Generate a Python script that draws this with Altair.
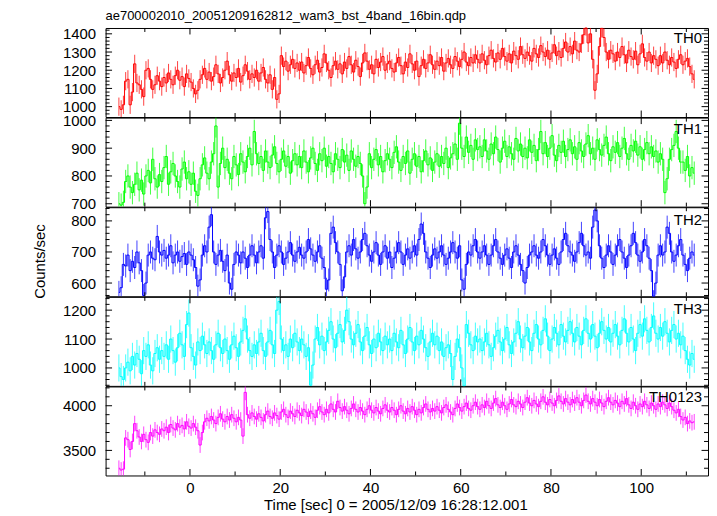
import altair as alt
import pandas as pd

TITLE = "ae700002010_20051209162812_wam3_bst_4band_16bin.qdp"
X_TITLE = "Time [sec] 0 = 2005/12/09 16:28:12.001"
Y_TITLE = "Counts/sec"
T_START = -16.0
BIN = 0.5
X_DOMAIN = [-18.7, 114.8]
X_LABELS = [0, 20, 40, 60, 80, 100]
X_MINOR = [-10, 10, 30, 50, 70, 90, 110]

TH0 = [
    1000, 985, 1010, 1140, 1150, 1010, 1080, 1235, 1130, 1120, 1095, 1055, 1200, 1210, 1150, 1095, 1120, 1170, 1140, 1110,
    1160, 1130, 1185, 1150, 1120, 1170, 1200, 1145, 1165, 1110, 1180, 1155, 1135, 1100, 1070, 1090, 1150, 1175, 1210, 1150,
    1190, 1140, 1165, 1230, 1180, 1130, 1160, 1200, 1250, 1175, 1140, 1185, 1160, 1210, 1135, 1170, 1230, 1195, 1150, 1180,
    1160, 1200, 1140, 1185, 1215, 1150, 1130, 1175, 1095, 1160, 1040, 1070, 1280, 1220, 1250, 1195, 1230, 1260, 1210, 1240,
    1200, 1245, 1185, 1225, 1270, 1210, 1175, 1230, 1255, 1190, 1215, 1290, 1240, 1200, 1160, 1225, 1250, 1205, 1235, 1180,
    1245, 1210, 1275, 1230, 1190, 1255, 1220, 1165, 1240, 1295, 1250, 1205, 1230, 1180, 1260, 1215, 1245, 1275, 1200, 1235,
    1250, 1210, 1190, 1240, 1270, 1225, 1180, 1245, 1215, 1290, 1235, 1200, 1250, 1165, 1225, 1260, 1210, 1240, 1285, 1230,
    1205, 1250, 1225, 1270, 1195, 1240, 1265, 1230, 1210, 1275, 1250, 1220, 1260, 1300, 1245, 1225, 1270, 1240, 1285, 1260,
    1240, 1290, 1255, 1230, 1280, 1310, 1265, 1245, 1295, 1260, 1320, 1275, 1250, 1290, 1240, 1305, 1280, 1260, 1330, 1285,
    1265, 1300, 1280, 1250, 1320, 1290, 1270, 1335, 1300, 1275, 1310, 1260, 1295, 1340, 1280, 1305, 1270, 1320, 1355, 1300,
    1330, 1290, 1360, 1310, 1300, 1345, 1395, 1440, 1350, 1400, 1260, 1090, 1180, 1330, 1430, 1380, 1300, 1260, 1310, 1290,
    1250, 1300, 1270, 1330, 1285, 1240, 1310, 1275, 1260, 1305, 1230, 1290, 1345, 1270, 1250, 1300, 1240, 1280, 1260, 1225,
    1280, 1240, 1300, 1255, 1230, 1270, 1245, 1210, 1260, 1285, 1230, 1250, 1265, 1220, 1180, 1150,
]
TH1 = [
    700, 695, 705, 780, 800, 760, 740, 770, 810, 750, 785, 735, 800, 820, 775, 860, 790, 760, 805, 780,
    830, 870, 770, 815, 845, 800, 780, 760, 825, 850, 790, 815, 770, 810, 745, 730, 790, 840, 865, 810,
    790, 850, 880, 980, 760, 845, 900, 830, 860, 810, 790, 870, 840, 805, 880, 850, 815, 870, 900, 840,
    960, 880, 845, 870, 820, 890, 850, 830, 875, 905, 845, 815, 860, 890, 835, 870, 810, 855, 880, 840,
    870, 830, 890, 850, 815, 865, 900, 845, 820, 880, 855, 900, 835, 870, 845, 815, 880, 860, 830, 895,
    850, 875, 820, 890, 860, 835, 870, 845, 800, 700, 760, 880, 830, 860, 895, 840, 870, 815, 855, 880,
    860, 830, 885, 905, 850, 820, 870, 845, 890, 810, 860, 880, 835, 870, 815, 855, 890, 840, 865, 820,
    850, 880, 835, 870, 845, 900, 830, 865, 880, 915, 860, 990, 900, 870, 940, 885, 910, 860, 930, 895,
    905, 870, 930, 890, 860, 915, 880, 940, 895, 850, 900, 925, 870, 905, 880, 860, 935, 890, 915, 870,
    900, 865, 930, 885, 910, 855, 895, 960, 880, 920, 870, 900, 945, 875, 855, 910, 885, 925, 870, 895,
    930, 880, 905, 860, 920, 890, 870, 915, 945, 880, 900, 860, 930, 895, 875, 910, 940, 880, 855, 905,
    885, 920, 870, 900, 935, 880, 860, 910, 890, 925, 875, 905, 860, 895, 920, 880, 905, 870, 890, 850,
    880, 860, 740, 790, 860, 895, 910, 960, 900, 850, 850, 820, 870, 800, 830, 810,
]
TH2 = [
    570, 585, 660, 655, 690, 640, 670, 650, 700, 665, 640, 560, 600, 690, 700, 680, 675, 750, 700, 690,
    705, 680, 690, 720, 665, 690, 700, 670, 685, 695, 660, 700, 690, 675, 650, 590, 610, 690, 720, 700,
    780, 820, 700, 660, 690, 705, 670, 640, 690, 600, 580, 660, 700, 690, 665, 700, 680, 650, 690, 720,
    690, 665, 700, 720, 680, 810, 830, 740, 700, 650, 690, 720, 700, 660, 680, 700, 730, 690, 670, 700,
    715, 690, 680, 700, 740, 710, 690, 670, 700, 720, 680, 650, 580, 610, 760, 780, 730, 700, 660, 575,
    620, 700, 720, 690, 740, 710, 680, 700, 740, 760, 720, 690, 670, 700, 730, 690, 660, 700, 720, 680,
    700, 650, 680, 700, 730, 700, 660, 690, 710, 680, 700, 720, 690, 740, 790, 760, 700, 680, 650, 690,
    710, 680, 700, 720, 690, 660, 680, 700, 730, 700, 680, 720, 610, 580, 660, 700, 690, 720, 740, 700,
    680, 700, 720, 690, 660, 690, 720, 740, 700, 680, 660, 690, 710, 680, 650, 700, 720, 690, 660, 640,
    600, 650, 690, 700, 720, 690, 680, 700, 740, 720, 690, 660, 690, 710, 680, 660, 700, 740, 760, 720,
    700, 690, 670, 700, 730, 760, 720, 690, 700, 680, 780, 835, 800, 720, 680, 650, 690, 720, 700, 660,
    690, 720, 740, 700, 680, 650, 690, 720, 760, 730, 690, 670, 700, 740, 720, 680, 640, 540, 600, 690,
    720, 690, 700, 780, 760, 700, 670, 690, 720, 740, 690, 660, 640, 680, 700, 690,
]
TH3 = [
    1000, 970, 960, 1000, 1020, 990, 1040, 1010, 1050, 1030, 980, 1060, 1040, 1080, 1010, 990, 1050, 1070, 1030, 1060,
    1040, 1080, 1030, 1100, 1060, 1020, 1070, 1120, 1080, 1040, 1150, 1190, 1070, 1040, 1010, 1090, 1060, 1110, 1080, 1050,
    1090, 1060, 1030, 1080, 1120, 1070, 1050, 1100, 1060, 1030, 1080, 1110, 1070, 1040, 1090, 1130, 1170, 1100, 1060, 1040,
    1080, 1050, 1090, 1120, 1060, 1040, 1090, 1130, 1080, 1050, 1200, 1230, 1100, 1060, 1080, 1040, 1100, 1070, 1120, 1090,
    1060, 1100, 1080, 1040, 1070, 940, 1010, 1100, 1140, 1080, 1110, 1060, 1090, 1130, 1160, 1100, 1070, 1120, 1150, 1090,
    1130, 1200, 1160, 1100, 1080, 1120, 1150, 1090, 1060, 1110, 1140, 1080, 1050, 1100, 1070, 1120, 1090, 1060, 1110, 1080,
    1100, 1060, 1120, 1090, 1070, 1130, 1080, 1050, 1100, 1140, 1090, 1060, 1110, 1080, 1130, 1100, 1070, 1040, 1090, 1120,
    1080, 1110, 1060, 1090, 1040, 1070, 1080, 1050, 960, 1040, 1100, 1070, 1000, 920, 1150, 1120, 1080, 1060, 1110, 1090,
    1100, 1060, 1090, 1120, 1080, 1040, 1070, 1110, 1130, 1090, 1060, 1100, 1140, 1080, 1050, 1090, 1120, 1160, 1100, 1070,
    1110, 1140, 1090, 1060, 1120, 1150, 1100, 1080, 1130, 1170, 1110, 1060, 1100, 1140, 1120, 1080, 1150, 1110, 1090, 1130,
    1160, 1120, 1090, 1140, 1110, 1080, 1130, 1170, 1120, 1100, 1150, 1110, 1070, 1120, 1160, 1130, 1100, 1140, 1090, 1120,
    1150, 1110, 1080, 1130, 1170, 1120, 1090, 1140, 1100, 1060, 1120, 1150, 1110, 1170, 1130, 1090, 1140, 1180, 1120, 1100,
    1140, 1110, 1160, 1120, 1090, 1130, 1150, 1100, 1120, 1080, 1110, 1060, 1030, 1010, 1050, 1030,
]
TH0123 = [
    3300, 3280, 3290, 3640, 3620, 3510, 3600, 3800, 3720, 3650, 3600, 3680, 3620, 3590, 3700, 3660, 3730, 3700, 3680, 3740,
    3720, 3760, 3700, 3790, 3750, 3730, 3800, 3760, 3780, 3740, 3820, 3770, 3750, 3800, 3760, 3720, 3560, 3700, 3820, 3860,
    3830, 3880, 3840, 3800, 3870, 3910, 3850, 3820, 3880, 3840, 3900, 3860, 3820, 3870, 3840, 3660, 4150, 3900, 3860, 3920,
    3880, 3850, 3910, 3870, 3830, 3900, 3940, 3880, 3860, 3920, 3890, 3850, 3930, 3960, 3900, 3870, 3940, 3910, 3880, 3950,
    3920, 3890, 3960, 3930, 3880, 3940, 3910, 3870, 3950, 3990, 3930, 3900, 3960, 3920, 4020, 3960, 3930, 4050, 3980, 3940,
    3990, 3950, 3910, 3970, 4020, 3960, 3930, 3980, 3940, 3900, 3960, 4000, 3950, 3920, 3980, 3940, 3910, 3970, 4010, 3950,
    3930, 3980, 3950, 3900, 3960, 4000, 3940, 3910, 3970, 3930, 3990, 3950, 3900, 3960, 3920, 3980, 4020, 3960, 3930, 3970,
    3940, 3990, 3950, 3920, 3980, 4010, 3960, 3930, 3900, 3970, 4020, 3980, 3940, 3990, 4030, 3970, 3950, 4000, 4040, 3990,
    3960, 4010, 3980, 4050, 4000, 3970, 4030, 4080, 4010, 3980, 4040, 4000, 3960, 4020, 4070, 4010, 3990, 4050, 4020, 3980,
    4040, 4090, 4030, 4000, 4060, 4020, 3990, 4050, 4100, 4040, 4010, 4070, 4030, 4000, 4060, 4110, 4050, 4020, 4080, 4040,
    4010, 4070, 4030, 4090, 4040, 4000, 4060, 4120, 4050, 4020, 4080, 4040, 4000, 4070, 4030, 3990, 4050, 4090, 4040, 4010,
    4060, 4030, 3990, 4050, 4020, 4080, 4010, 3970, 4040, 4000, 3960, 4020, 3990, 4050, 4010, 3970, 4030, 4000, 3960, 4020,
    3990, 4040, 4010, 3970, 4030, 3990, 3950, 3920, 3960, 3880, 3840, 3870, 3800, 3830, 3810, 3820,
]

# name, values, error, colour, y-domain, y labels (major), minor step, label y offset
PANELS = [
    ("TH0", TH0, 50, "#ff0000", [943, 1432], [1000, 1100, 1200, 1300, 1400], 20, 10),
    ("TH1", TH1, 42, "#00ff00", [689.6, 1010], [700, 800, 900, 1000], 20, 11.5),
    ("TH2", TH2, 37, "#0000ff", [557.5, 844], [600, 700, 800], 20, 12.5),
    ("TH3", TH3, 47, "#00ffff", [938, 1246], [1000, 1100, 1200], 20, 12.5),
    ("TH0123", TH0123, 88, "#ff00ff", [3219, 4216], [3500, 4000], 100, 10.5),
]

W, H = 605, 89.4
FONT = "Liberation Sans"
MAJ, MINL = 6.5, 4


def make_panel(name, vals, err, color, ydom, ylabels, ystep, label_y, top, bottom, with_title):
    t = [T_START + BIN * (i + 0.5) for i in range(len(vals))]
    df = pd.DataFrame({"t": t, "v": vals})
    df["lo"] = df["v"] - err
    df["hi"] = df["v"] + err

    xs = alt.Scale(domain=X_DOMAIN, nice=False, zero=False, clamp=True)
    ys = alt.Scale(domain=ydom, nice=False, zero=False, clamp=True)

    if bottom:
        xax = alt.Axis(values=X_LABELS, format="d", ticks=False, domain=False, grid=False,
                       labelPadding=5, labelFontSize=15, labelFont=FONT,
                       labelColor="black", labelFlush=False,
                       title=X_TITLE, titleFontSize=15, titleFont=FONT,
                       titleFontWeight="normal", titleColor="black",
                       titlePadding=2, titleX=291, titleAlign="center")
    else:
        xax = None

    yargs = dict(values=ylabels, format="d", ticks=False, domain=False, grid=False,
                 labelPadding=10, labelFontSize=15, labelFont=FONT,
                 labelColor="black", labelOverlap=False, labelFlush=False)
    if with_title:
        yargs.update(title=Y_TITLE, titleFontSize=15, titleFont=FONT,
                     titleFontWeight="normal", titleColor="black",
                     titleX=-66, titleY=54, titleAngle=270,
                     titleBaseline="middle", titleAlign="center")
    else:
        yargs.update(title=None)
    yax = alt.Axis(**yargs)

    X = lambda: alt.X("t:Q", scale=xs, axis=xax)
    Y = lambda f: alt.Y(f, scale=ys, axis=yax)

    err_layer = alt.Chart(df).mark_rule(color=color, opacity=0.75, strokeWidth=1).encode(
        x=X(), y=Y("lo:Q"), y2="hi:Q")
    line_layer = alt.Chart(df).mark_line(interpolate="step", color=color, strokeWidth=1).encode(
        x=X(), y=Y("v:Q"))

    layers = [err_layer, line_layer]

    xmaj = pd.DataFrame({"t": X_LABELS})
    xmin = pd.DataFrame({"t": X_MINOR})
    for d, L in ((xmaj, MAJ), (xmin, MINL)):
        layers.append(alt.Chart(d).mark_rule(color="black", strokeWidth=1).encode(
            x=X(), y=alt.value(0), y2=alt.value(L)))
        layers.append(alt.Chart(d).mark_rule(color="black", strokeWidth=1).encode(
            x=X(), y=alt.value(H), y2=alt.value(H - L)))

    lo, hi = ydom
    minor_vals = [v for v in range(int(lo // ystep + 1) * ystep, int(hi) + 1, ystep) if v not in ylabels]
    ymaj = pd.DataFrame({"v": ylabels})
    ymin = pd.DataFrame({"v": minor_vals})
    for d, L in ((ymaj, MAJ), (ymin, MINL)):
        layers.append(alt.Chart(d).mark_rule(color="black", strokeWidth=1).encode(
            y=Y("v:Q"), x=alt.value(0), x2=alt.value(L)))
        layers.append(alt.Chart(d).mark_rule(color="black", strokeWidth=1).encode(
            y=Y("v:Q"), x=alt.value(W), x2=alt.value(W - L)))

    lab = alt.Chart(pd.DataFrame({"name": [name]})).mark_text(
        align="right", baseline="middle", font=FONT, fontSize=15, color="black").encode(
        x=alt.value(W - 6), y=alt.value(label_y), text="name:N")
    layers.append(lab)

    if top:
        ttl = alt.Chart(pd.DataFrame({"title": [TITLE]})).mark_text(
            align="left", baseline="alphabetic", font=FONT, fontSize=13, color="black").encode(
            x=alt.value(0), y=alt.value(-8), text="title:N")
        layers.append(ttl)

    return alt.layer(*layers).properties(width=W, height=H)


charts = []
for i, p in enumerate(PANELS):
    charts.append(make_panel(*p, top=(i == 0), bottom=(i == len(PANELS) - 1), with_title=(i == 2)))

chart = alt.vconcat(*charts, spacing=0, bounds="flush").properties(
    padding={"left": 24, "top": 0, "right": 0, "bottom": 0},
    background="white",
).configure_view(stroke="black", strokeWidth=1)

chart.save("out.html", embed_options={"renderer": "svg", "actions": False})
